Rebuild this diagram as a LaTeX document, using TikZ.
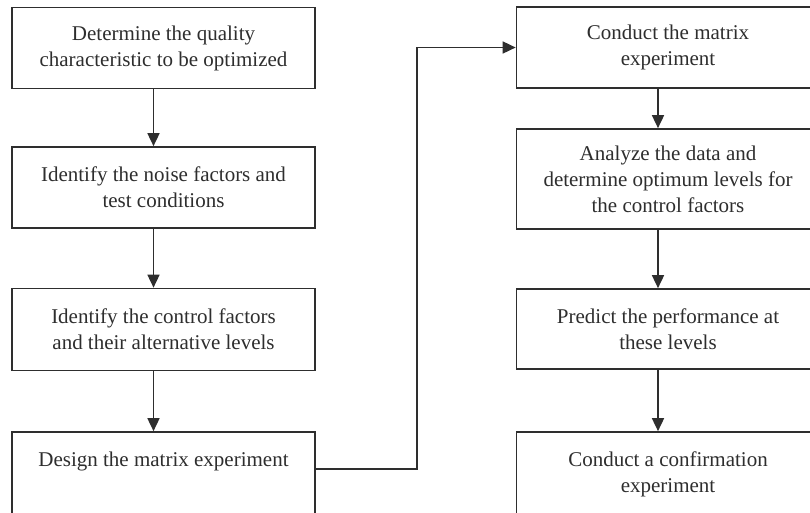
\documentclass[tikz,border=0pt]{standalone}
\usepackage{fontspec}
\setmainfont{Liberation Serif}
\usetikzlibrary{arrows.meta}
\definecolor{ink}{HTML}{2E2E2E}
\begin{document}
\begin{tikzpicture}[x=1pt,y=-1pt,
  box/.style={draw=ink, line width=1.7pt, minimum width=303pt, inner sep=0pt,
    align=center, text=ink, font=\fontsize{21}{26}\selectfont},
  arr/.style={draw=ink, line width=1.7pt, -{Triangle[length=13pt,width=12pt]}}]
\clip (0,0) rectangle (810,512);
\fill[white] (0,0) rectangle (810,512);
\node[box, minimum height=81pt] (l1) at (163.5,48) {Determine the quality\\characteristic to be optimized};
\node[box, minimum height=81pt] (l2) at (163.5,187.5) {Identify the noise factors and\\test conditions};
\node[box, minimum height=82pt] (l3) at (163.5,329.5) {Identify the control factors\\and their alternative levels};
\node[box, minimum height=86pt] (l4) at (163.5,475) {Design the matrix experiment\\\mbox{}\\[-20pt]\mbox{}};
\node[box, minimum height=81pt] (r1) at (668,47.5) {Conduct the matrix\\experiment};
\node[box, minimum height=100pt] (r2) at (668,179) {Analyze the data and\\determine optimum levels for\\the control factors};
\node[box, minimum height=80pt] (r3) at (668,329) {Predict the performance at\\these levels};
\node[box, minimum height=86pt] (r4) at (668,475) {Conduct a confirmation\\experiment\\[-20pt]\mbox{}};
\draw[arr] ([xshift=-10pt]l1.south) -- ([xshift=-10pt]l2.north);
\draw[arr] ([xshift=-10pt]l2.south) -- ([xshift=-10pt]l3.north);
\draw[arr] ([xshift=-10pt]l3.south) -- ([xshift=-10pt]l4.north);
\draw[arr] ([xshift=-10pt]r1.south) -- ([xshift=-10pt]r2.north);
\draw[arr] ([xshift=-10pt]r2.south) -- ([xshift=-10pt]r3.north);
\draw[arr] ([xshift=-10pt]r3.south) -- ([xshift=-10pt]r4.north);
\draw[arr] ([yshift=6pt]l4.east) -- ++(101,0) |- (r1.west);
\end{tikzpicture}
\end{document}
